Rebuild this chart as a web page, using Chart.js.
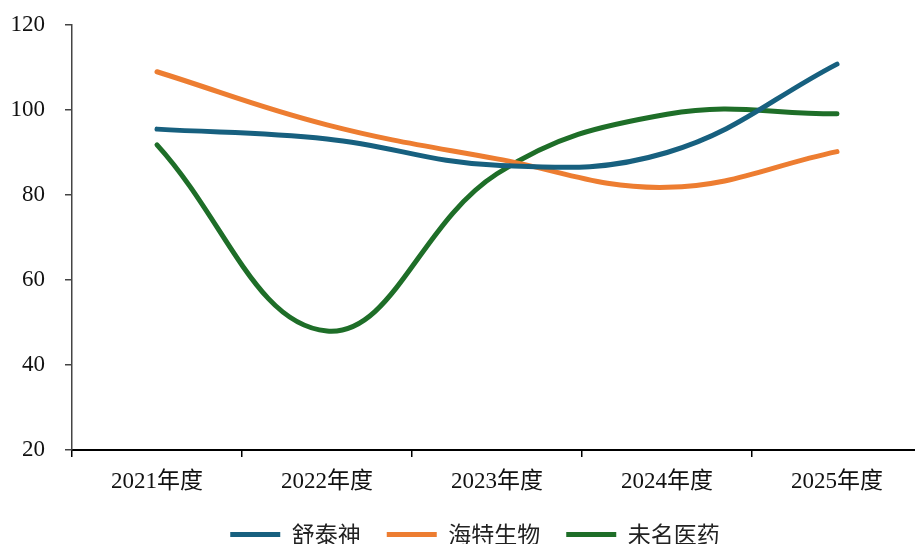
<!DOCTYPE html>
<html>
<head>
<meta charset="utf-8">
<script src="https://cdn.jsdelivr.net/npm/chart.js@4.4.3/dist/chart.umd.min.js"></script>
<style>
  html, body { margin: 0; padding: 0; background: #fff; overflow: hidden; }
  #wrap { width: 915px; height: 544px; overflow: hidden; position: relative; }
  canvas { position: absolute; left: 0; top: 0; }
</style>
</head>
<body>
<div id="wrap"><canvas id="chart" width="930" height="556"></canvas></div>
<script>
/* 三家公司 2021-2025 年度指标对比（平滑折线） */
const categories = ['2021年度', '2022年度', '2023年度', '2024年度', '2025年度'];
const yTicks     = [20, 40, 60, 80, 100, 120];

const shutaishen = [95.5, 93.2, 87.0, 90.0, 110.8];   // 舒泰神
const haite      = [109.0, 96.5, 88.5, 81.8, 90.2];   // 海特生物
const weiming    = [91.8, 48.0, 85.0, 99.0, 99.1];    // 未名医药

const FONT = '"Liberation Serif", "Noto Sans CJK SC", serif';
const LEGEND_CENTER = 475;

const line = (label, data, color) => ({
  label, data,
  borderColor: color, backgroundColor: color,
  borderWidth: 5, borderCapStyle: 'round', borderJoinStyle: 'round',
  pointRadius: 0, pointHoverRadius: 0,
  tension: 0.4, fill: false
});

// legend box is full width; slide it so the items sit where the original has them
const legendShift = {
  id: 'legendShift',
  afterLayout(chart) {
    const L = chart.legend;
    if (!L) return;
    const half = (L.right - L.left) / 2;
    L.left = LEGEND_CENTER - half;
    L.right = LEGEND_CENTER + half;
  }
};

new Chart(document.getElementById('chart'), {
  type: 'line',
  data: {
    labels: categories,
    datasets: [
      line('舒泰神',   shutaishen, '#17607f'),
      line('海特生物', haite,      '#ed7d31'),
      line('未名医药', weiming,    '#1e6e28')
    ]
  },
  plugins: [legendShift],
  options: {
    responsive: false,
    animation: false,
    devicePixelRatio: 1,
    layout: { padding: { left: 4, right: 8, top: 25, bottom: 0 } },
    plugins: {
      tooltip: { enabled: false },
      legend: {
        position: 'bottom',
        labels: {
          usePointStyle: true, pointStyle: 'line', pointStyleWidth: 50,
          padding: 26, color: '#222',
          font: { family: '"Noto Sans CJK SC", sans-serif', size: 23 }
        }
      }
    },
    scales: {
      x: {
        offset: true,
        grid: { display: true, offset: true, drawOnChartArea: false, drawTicks: true, tickLength: 7, color: '#000', lineWidth: 1.5 },
        border: { display: true, color: '#000', width: 2 },
        ticks: { color: '#111', padding: 11, maxRotation: 0, font: { family: FONT, size: 23 } },
        afterFit: s => { s.height = 47; }
      },
      y: {
        min: yTicks[0], max: yTicks[yTicks.length - 1],
        afterBuildTicks: s => { s.ticks = yTicks.map(v => ({ value: v })); },
        grid: { display: true, drawOnChartArea: false, drawTicks: true, tickLength: 7, color: '#444', lineWidth: 1.5 },
        border: { display: true, color: '#444', width: 1.5 },
        ticks: { color: '#111', padding: 20, font: { family: FONT, size: 23 } },
        afterFit: s => { s.width = 68; s.paddingTop = 0; s.paddingBottom = 0; }
      }
    }
  }
});
</script>
</body>
</html>
